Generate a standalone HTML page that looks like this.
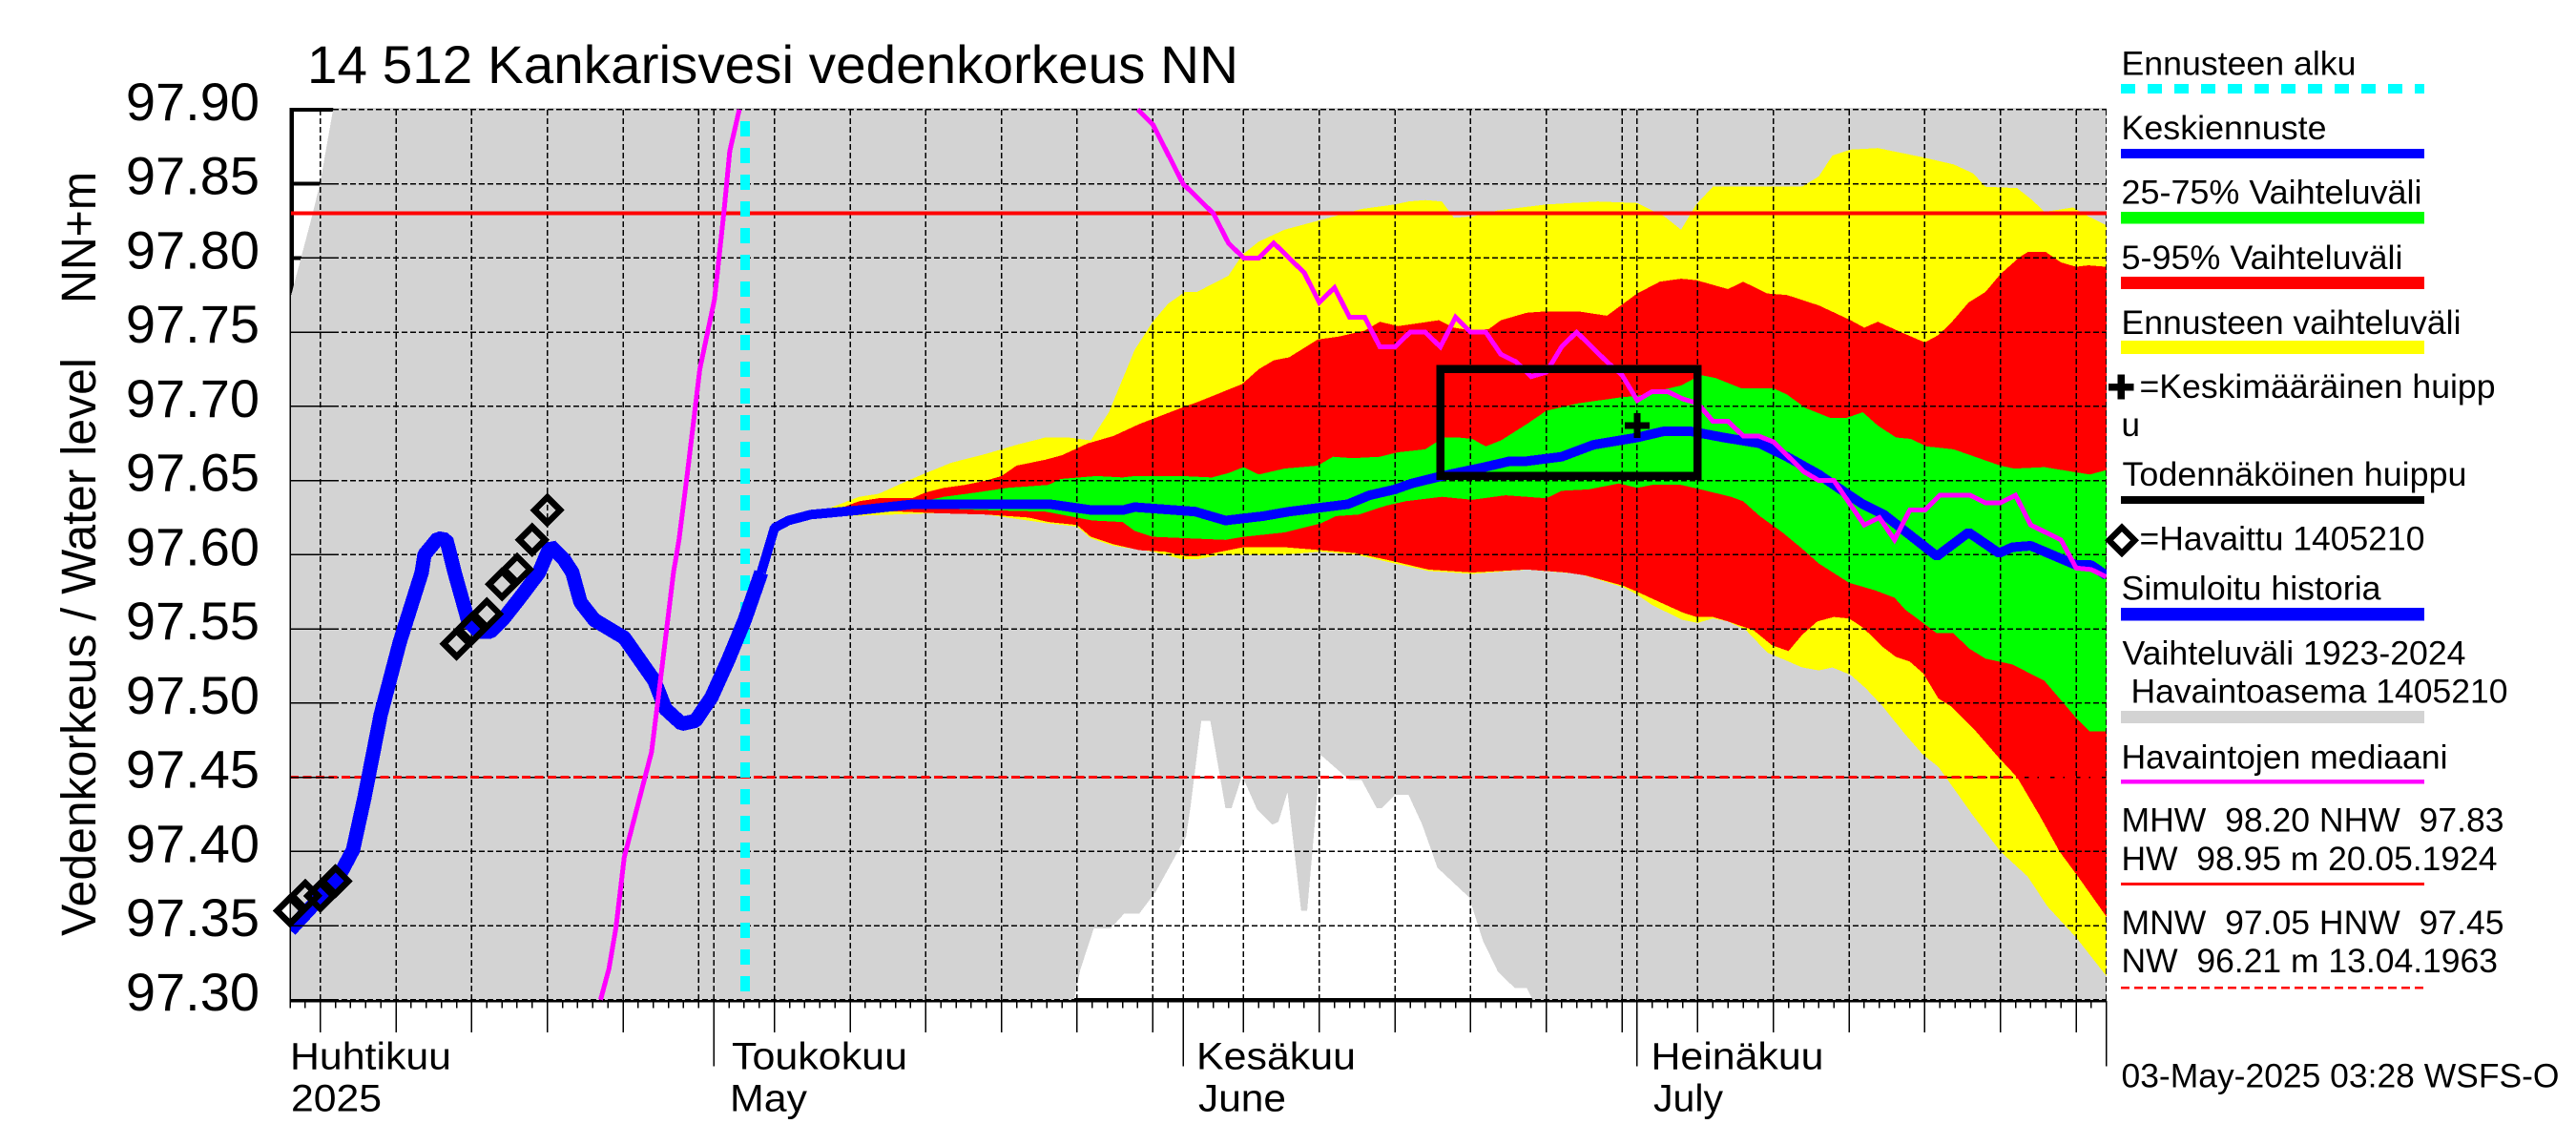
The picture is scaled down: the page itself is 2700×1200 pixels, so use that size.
<!DOCTYPE html>
<html lang="fi">
<head>
<meta charset="utf-8">
<title>14 512 Kankarisvesi vedenkorkeus NN</title>
<style>
html,body{margin:0;padding:0;background:#fff;width:2700px;height:1200px;overflow:hidden}
svg{display:block;shape-rendering:crispEdges}
text{font-family:"Liberation Sans",sans-serif;fill:#000;white-space:pre}
.lg{font-size:35px;transform:translateX(1.5px)}
.xl{font-size:40px}
</style>
</head>
<body>
<svg id="chart" xmlns="http://www.w3.org/2000/svg" width="2700" height="1200" viewBox="0 0 2700 1200">
<rect x="0" y="0" width="2700" height="1200" fill="#fff"/>
<defs><clipPath id="plotClip"><rect x="304" y="113" width="1904" height="937"/></clipPath></defs>
<text x="322" y="87" font-size="56" textLength="976" lengthAdjust="spacingAndGlyphs">14 512 Kankarisvesi vedenkorkeus NN</text>
<text transform="rotate(-90 100 981)" x="100" y="981" font-size="51" textLength="606" lengthAdjust="spacingAndGlyphs">Vedenkorkeus / Water level</text>
<text transform="rotate(-90 100 318)" x="100" y="318" font-size="51" textLength="138" lengthAdjust="spacingAndGlyphs">NN+m</text>
<g id="axesUnder"></g>
<g clip-path="url(#plotClip)">
  <g id="bands"></g>
  <g id="grid"></g>
  <g id="series"></g>
</g>
<g id="marks"></g>
<g id="axesOver"></g>

<text class="xl" x="304" y="1120.5" textLength="169" lengthAdjust="spacingAndGlyphs">Huhtikuu</text>
<text class="xl" x="305" y="1164.5" textLength="95" lengthAdjust="spacingAndGlyphs">2025</text>
<text class="xl" x="767" y="1120.5" textLength="184" lengthAdjust="spacingAndGlyphs">Toukokuu</text>
<text class="xl" x="765" y="1164.5" textLength="81" lengthAdjust="spacingAndGlyphs">May</text>
<text class="xl" x="1254" y="1120.5" textLength="167" lengthAdjust="spacingAndGlyphs">Kesäkuu</text>
<text class="xl" x="1256" y="1164.5" textLength="92" lengthAdjust="spacingAndGlyphs">June</text>
<text class="xl" x="1730.5" y="1120.5" textLength="181" lengthAdjust="spacingAndGlyphs">Heinäkuu</text>
<text class="xl" x="1733" y="1164.5" textLength="73" lengthAdjust="spacingAndGlyphs">July</text>

<g>
<text class="lg" x="2222" y="78.5" textLength="246" lengthAdjust="spacingAndGlyphs">Ennusteen alku</text>
<line x1="2223" x2="2541" y1="93" y2="93" stroke="#00ffff" stroke-width="10" stroke-dasharray="15 13"/>
<text class="lg" x="2222" y="146" textLength="215" lengthAdjust="spacingAndGlyphs">Keskiennuste</text>
<line x1="2223" x2="2541" y1="161" y2="161" stroke="#0000ff" stroke-width="10"/>
<text class="lg" x="2222" y="213.5" textLength="315" lengthAdjust="spacingAndGlyphs">25-75% Vaihteluväli</text>
<line x1="2223" x2="2541" y1="228.3" y2="228.3" stroke="#00ff00" stroke-width="12.6"/>
<text class="lg" x="2222" y="282" textLength="295" lengthAdjust="spacingAndGlyphs">5-95% Vaihteluväli</text>
<line x1="2223" x2="2541" y1="296.6" y2="296.6" stroke="#ff0000" stroke-width="13"/>
<text class="lg" x="2222" y="350" textLength="356" lengthAdjust="spacingAndGlyphs">Ennusteen vaihteluväli</text>
<line x1="2223" x2="2541" y1="364" y2="364" stroke="#ffff00" stroke-width="14"/>
<path d="M2210 405.7H2236.6M2223.3 392.7V418.7" stroke="#000" stroke-width="7.5" fill="none"/>
<text class="lg" x="2241" y="417" textLength="373" lengthAdjust="spacingAndGlyphs">=Keskimääräinen huipp</text>
<text class="lg" x="2222" y="457">u</text>
<text class="lg" x="2223" y="509" textLength="361" lengthAdjust="spacingAndGlyphs">Todennäköinen huippu</text>
<line x1="2223" x2="2541" y1="524" y2="524" stroke="#000" stroke-width="8"/>
<path d="M2224 552.9L2237.5 566.4L2224 579.9L2210.5 566.4Z" stroke="#000" stroke-width="6.5" fill="none"/>
<text class="lg" x="2241" y="576.7" textLength="299" lengthAdjust="spacingAndGlyphs">=Havaittu 1405210</text>
<text class="lg" x="2222" y="628.7" textLength="272" lengthAdjust="spacingAndGlyphs">Simuloitu historia</text>
<line x1="2223" x2="2541" y1="643.8" y2="643.8" stroke="#0000ff" stroke-width="13.5"/>
<text class="lg" x="2223" y="696.4" textLength="360" lengthAdjust="spacingAndGlyphs">Vaihteluväli 1923-2024</text>
<text class="lg" x="2232" y="736.6" textLength="395" lengthAdjust="spacingAndGlyphs">Havaintoasema 1405210</text>
<line x1="2223" x2="2541" y1="751.5" y2="751.5" stroke="#d3d3d3" stroke-width="13"/>
<text class="lg" x="2222" y="805.5" textLength="342" lengthAdjust="spacingAndGlyphs">Havaintojen mediaani</text>
<line x1="2223" x2="2541" y1="819.3" y2="819.3" stroke="#ff00ff" stroke-width="4.6"/>
<text class="lg" x="2222" y="871.7" textLength="401" lengthAdjust="spacingAndGlyphs">MHW  98.20 NHW  97.83</text>
<text class="lg" x="2222" y="912" textLength="394" lengthAdjust="spacingAndGlyphs">HW  98.95 m 20.05.1924</text>
<line x1="2223" x2="2541" y1="926.5" y2="926.5" stroke="#ff0000" stroke-width="3"/>
<text class="lg" x="2222" y="978.9" textLength="401" lengthAdjust="spacingAndGlyphs">MNW  97.05 HNW  97.45</text>
<text class="lg" x="2222" y="1019" textLength="394.5" lengthAdjust="spacingAndGlyphs">NW  96.21 m 13.04.1963</text>
<line x1="2223" x2="2541" y1="1035" y2="1035" stroke="#ff0000" stroke-width="2.5" stroke-dasharray="9 5"/>
<text class="lg" x="2222" y="1139.6" textLength="459" lengthAdjust="spacingAndGlyphs">03-May-2025 03:28 WSFS-O</text>
</g>
</svg>
<script>
// ---- axis labels and tick positions (days since 3 April 2025) ----
const yTickLabels = ["97.90","97.85","97.80","97.75","97.70","97.65","97.60","97.55","97.50","97.45","97.40","97.35","97.30"];
const gridDays = [2,7,12,17,22,27,32,37,42,47,52,57,63,68,73,78,83,88,93,98,103,108,113,118];
const noLongTickDays = [27];
const monthDays = [28,59,89,120];
const firstDay = 0;
const lastDay = 120;

// ---- reference levels and forecast start ----
const nhwLevel = 97.83;
const hnwLevel = 97.45;
const forecastStartDay = 30;

// ---- historic range 1923-2024 (grey) ----
const greyUpperDays = [0,1.45,2,2.84,4,120];
const greyUpperVals = [97.772,97.828,97.851,97.90,98.0,98.1];
const greyLowerDays = [0,51.8,52.2,53.1,54.2,55.1,56.1,57.2,59.2,59.5,60.2,60.8,61.8,62.2,62.9,63.9,64.9,65.3,65.9,66.8,67.2,68.1,70,70.8,71.8,72.1,73,73.9,74.8,75.8,77.9,78.8,79.8,80.9,81.7,82.1,120];
const greyLowerVals = [97.30,97.30,97.32,97.348,97.348,97.358,97.358,97.373,97.41,97.431,97.488,97.488,97.429,97.429,97.451,97.428,97.418,97.42,97.44,97.36,97.36,97.465,97.448,97.448,97.429,97.429,97.438,97.438,97.418,97.389,97.369,97.34,97.319,97.308,97.308,97.30,97.30];

// ---- forecast range (yellow) ----
const yellowUpperDays = [34,37.6,38.9,40.4,42,43.7,46,48,49.9,51.4,52.9,54.1,55.8,57,58,59.1,59.9,62,62.9,64,65.7,67.9,70.8,73,73.9,75,76.1,76.9,78.1,79.8,83,86.4,89,90.8,91.9,92.9,94,99.9,101,101.9,103.1,104.9,107.8,109.9,111.2,112,114.1,115.1,115.9,117.8,118.8,120];
const yellowUpperVals = [97.625,97.639,97.641,97.648,97.655,97.662,97.668,97.674,97.679,97.679,97.677,97.696,97.738,97.757,97.769,97.777,97.777,97.788,97.802,97.811,97.819,97.825,97.833,97.836,97.838,97.839,97.838,97.827,97.828,97.832,97.836,97.838,97.837,97.828,97.819,97.836,97.848,97.848,97.855,97.869,97.873,97.874,97.868,97.863,97.857,97.848,97.847,97.839,97.831,97.834,97.828,97.822];
const yellowLowerDays = [34,42.6,46,50.1,52,52.9,54.4,57,57.8,58.9,60,61.5,65.7,68.1,70.4,75.2,78.1,81.7,85.2,88.1,89,90,92,93,94,95,96.2,97.6,99,99.9,101,101.9,103.1,104.1,105.2,106.7,107.9,108.9,109.6,111.2,113,114.8,116.1,118,120];
const yellowLowerVals = [97.625,97.628,97.627,97.621,97.619,97.611,97.606,97.602,97.60,97.597,97.597,97.60,97.60,97.602,97.60,97.589,97.587,97.59,97.587,97.578,97.573,97.566,97.556,97.554,97.557,97.555,97.549,97.534,97.528,97.524,97.522,97.524,97.519,97.51,97.498,97.479,97.465,97.457,97.447,97.424,97.40,97.383,97.363,97.342,97.316];

// ---- 5-95 % range (red) ----
const redUpperDays = [36,37.6,38.9,41.1,42,43.2,44.6,46,47,48,49.9,51,52.7,54.4,56.1,58.9,60,62.9,64,65,66,67.9,69.3,71,72,73.2,75.9,76.9,78.1,79.2,80,81.7,83,85.1,87,89,90.5,91.9,92.9,95,96,97.6,98.9,101,103.1,104,104.9,106.2,108,108.9,109.8,110.9,112,113,114.2,114.8,116,117,118,118.8,120];
const redUpperVals = [97.63,97.636,97.638,97.638,97.642,97.645,97.647,97.65,97.653,97.66,97.664,97.667,97.675,97.68,97.688,97.699,97.703,97.715,97.725,97.731,97.733,97.745,97.747,97.751,97.757,97.754,97.758,97.753,97.751,97.752,97.758,97.763,97.764,97.764,97.761,97.776,97.784,97.786,97.785,97.779,97.784,97.776,97.775,97.768,97.758,97.753,97.757,97.751,97.743,97.748,97.757,97.77,97.777,97.789,97.80,97.804,97.804,97.797,97.794,97.795,97.794];
const redLowerDays = [36,40.4,42.6,46,48.8,50.1,52,52.9,54.4,56.1,57.8,59.2,60,61.5,63,65.7,68.1,70.4,72.7,75.2,78.1,81.7,84.3,85.6,88.1,89,90.5,92,92.9,94,95,96.7,97.9,99,99.9,100.9,102,103,103.9,105.2,106.1,107,107.9,108.9,109.7,111.2,112.9,114.1,115.6,116.9,118.2,120];
const redLowerVals = [97.63,97.629,97.628,97.627,97.625,97.622,97.62,97.612,97.607,97.603,97.602,97.599,97.599,97.602,97.605,97.605,97.603,97.601,97.596,97.59,97.588,97.59,97.588,97.586,97.579,97.575,97.568,97.561,97.558,97.558,97.555,97.549,97.539,97.535,97.546,97.555,97.558,97.557,97.551,97.538,97.531,97.528,97.52,97.503,97.498,97.483,97.463,97.45,97.424,97.40,97.382,97.356];

// ---- 25-75 % range (green) ----
const greenUpperDays = [40,43.2,45.4,47.4,50.1,50.9,53.3,55,55.8,57.2,58.9,60.9,62,63,64,65.7,67.9,68.9,70.2,72,73.2,75,76.2,77.2,78.1,79,80,81.7,83,85.1,87.9,89,91.9,93.2,94.2,95.9,98,98.9,100.1,101.8,102.8,103.9,104.9,106.1,107.1,108.1,109.9,113,113.9,115.9,118.9,120];
const greenUpperVals = [97.632,97.639,97.642,97.645,97.647,97.651,97.653,97.652,97.653,97.653,97.653,97.652,97.655,97.659,97.654,97.658,97.66,97.666,97.665,97.666,97.669,97.671,97.679,97.679,97.678,97.673,97.677,97.688,97.697,97.702,97.706,97.707,97.714,97.721,97.719,97.712,97.712,97.708,97.699,97.692,97.692,97.696,97.687,97.679,97.678,97.673,97.671,97.66,97.658,97.659,97.654,97.657];
const greenLowerDays = [40,46,49.9,53,55,55.8,57,61.8,63,65.7,68.1,69.1,70.6,72.4,73.7,76.1,78.1,80.3,83,84,85.8,87.8,89,90,91.9,93.2,95.2,96,97.1,98.6,99.9,101,103,104.7,106,106.7,108.8,109.9,110.9,112,113.8,115.9,118,118.9,120];
const greenLowerVals = [97.632,97.63,97.629,97.623,97.622,97.616,97.612,97.61,97.612,97.615,97.621,97.626,97.627,97.633,97.636,97.639,97.637,97.64,97.638,97.643,97.644,97.648,97.645,97.647,97.647,97.644,97.639,97.636,97.626,97.615,97.604,97.594,97.581,97.576,97.571,97.563,97.547,97.547,97.537,97.53,97.526,97.515,97.49,97.481,97.481];

// ---- simulated history (thick blue) ----
const historyDays = [0,1.45,3.28,4.16,4.91,5.99,7.25,8.7,8.88,9.77,10.33,10.87,11.78,12.48,13.23,14.11,15.19,16.45,17.2,18.08,18.65,19.19,20.1,22.08,24.07,24.8,25.88,26.78,27.85,28.95,30.04,31.13];
const historyVals = [97.347,97.363,97.384,97.401,97.436,97.492,97.541,97.588,97.60,97.611,97.61,97.588,97.555,97.548,97.548,97.557,97.571,97.588,97.606,97.597,97.588,97.568,97.556,97.544,97.515,97.496,97.486,97.488,97.504,97.529,97.556,97.588];

// ---- mean forecast (blue) ----
const forecastDays = [31.13,32.01,32.93,34.4,37.56,41.2,50.2,53,55,55.8,59.8,61.8,64.3,66,69.9,71.3,73,74.1,76.1,78.9,80.6,81.7,84,86.1,89,90.7,92.6,94.7,97.1,98.9,101,102,103.9,105.3,108.8,110.9,112.9,113.8,115,118,119,120];
const forecastVals = [97.588,97.618,97.623,97.627,97.63,97.634,97.634,97.63,97.63,97.632,97.629,97.623,97.626,97.629,97.634,97.64,97.644,97.648,97.653,97.659,97.663,97.663,97.666,97.674,97.679,97.683,97.683,97.679,97.675,97.666,97.654,97.647,97.634,97.627,97.599,97.615,97.601,97.605,97.606,97.593,97.593,97.586];

// ---- observation median (magenta), two visible pieces ----
const medianRiseDays = [20.52,21.07,21.54,22.08,23.88,24.43,25.33,25.7,26.24,27.07,28.04,28.67,29.05,29.68];
const medianRiseVals = [97.30,97.321,97.349,97.396,97.467,97.512,97.588,97.61,97.654,97.725,97.772,97.831,97.872,97.90];
const medianFallDays = [56,57,59,61,62,63,64,65,67,68,69,70,71,72,73,74,75,76,77,78,79,80,81,82,83,84,85,87,88,89,90,91,92,93,94,95,96,97,98,100,101,102,104,105,106,107,108,109,111,112,113,114,115,117,118,119,120];
const medianFallVals = [97.90,97.89,97.85,97.83,97.81,97.80,97.80,97.81,97.79,97.77,97.78,97.76,97.76,97.74,97.74,97.75,97.75,97.74,97.76,97.75,97.75,97.735,97.73,97.72,97.723,97.74,97.75,97.73,97.721,97.704,97.71,97.71,97.705,97.702,97.69,97.69,97.68,97.68,97.676,97.656,97.65,97.65,97.62,97.625,97.61,97.63,97.63,97.64,97.64,97.635,97.635,97.64,97.62,97.61,97.591,97.59,97.585];

// ---- observations (diamonds) ----
const observedDays = [0,1,2,3,11,12,13,14,15,16,17];
const observedVals = [97.36,97.37,97.37,97.38,97.54,97.55,97.56,97.58,97.59,97.61,97.63];

// ---- probable peak box and mean peak ----
const peakBoxDays = [76,93];
const peakBoxVals = [97.725,97.653];
const meanPeakDay = [89];
const meanPeakVal = [97.687];

// ---- axis functions ----
function xScale(day){ return 304 + 15.865 * day; }
function yScale(val){ return 114.8 + (97.9 - val) * 1555; }

const SVG_NS = 'http://www.w3.org/2000/svg';
function make(tag, parentId){
  const el = document.createElementNS(SVG_NS, tag);
  document.getElementById(parentId).appendChild(el);
  return el;
}
function pts(days, vals){
  return days.map(function(d,i){ return xScale(d).toFixed(1)+','+yScale(vals[i]).toFixed(1); });
}
function bandPoints(upD, upV, loD, loV){
  return pts(upD, upV).concat(pts(loD, loV).reverse()).join(' ');
}
function parseTick(s){ return parseFloat(s); }

// base (thick) axes under the grey area
const baseLeft = make('line','axesUnder');


baseLeft.setAttribute('x1', 306); baseLeft.setAttribute('x2', 306);
baseLeft.setAttribute('y1', 113); baseLeft.setAttribute('y2', 1050);
baseLeft.setAttribute('stroke', '#000'); baseLeft.setAttribute('stroke-width', 4);
const baseBottom = make('line','axesUnder');


baseBottom.setAttribute('x1', xScale(firstDay)); baseBottom.setAttribute('x2', xScale(lastDay));
baseBottom.setAttribute('y1', 1048); baseBottom.setAttribute('y2', 1048);
baseBottom.setAttribute('stroke', '#000'); baseBottom.setAttribute('stroke-width', 4.5);
yTickLabels.forEach(function(label){
  const y = yScale(parseTick(label));
  const t = make('line','axesUnder');
  
  
  t.setAttribute('x1', 304); t.setAttribute('x2', 350);
  t.setAttribute('y1', y); t.setAttribute('y2', y);
  t.setAttribute('stroke', '#000'); t.setAttribute('stroke-width', 4);
});

// bands
const greyBand = make('polygon','bands');


greyBand.setAttribute('fill', '#d3d3d3');
greyBand.setAttribute('points', bandPoints(greyUpperDays, greyUpperVals, greyLowerDays, greyLowerVals));
const yellowBand = make('polygon','bands');


yellowBand.setAttribute('fill', '#ffff00');
yellowBand.setAttribute('points', bandPoints(yellowUpperDays, yellowUpperVals, yellowLowerDays, yellowLowerVals));
const redBand = make('polygon','bands');


redBand.setAttribute('fill', '#ff0000');
redBand.setAttribute('points', bandPoints(redUpperDays, redUpperVals, redLowerDays, redLowerVals));
const greenBand = make('polygon','bands');


greenBand.setAttribute('fill', '#00ff00');
greenBand.setAttribute('points', bandPoints(greenUpperDays, greenUpperVals, greenLowerDays, greenLowerVals));

// grid
yTickLabels.forEach(function(label){
  const y = yScale(parseTick(label));
  const g = make('line','grid');
  
  
  g.setAttribute('x1', xScale(firstDay)); g.setAttribute('x2', xScale(lastDay));
  g.setAttribute('y1', y); g.setAttribute('y2', y);
  g.setAttribute('stroke', '#000'); g.setAttribute('stroke-width', 1.5);
  g.setAttribute('stroke-dasharray', '6 3');
});
gridDays.concat(monthDays).forEach(function(day){
  const x = xScale(day);
  const g = make('line','grid');
  
  
  g.setAttribute('x1', x); g.setAttribute('x2', x);
  g.setAttribute('y1', yScale(97.9)); g.setAttribute('y2', yScale(97.3));
  g.setAttribute('stroke', '#000'); g.setAttribute('stroke-width', 1.5);
  g.setAttribute('stroke-dasharray', '6 3');
});

// reference lines
const nhwLine = make('line','series');


nhwLine.setAttribute('x1', xScale(firstDay)); nhwLine.setAttribute('x2', xScale(lastDay));
nhwLine.setAttribute('y1', yScale(nhwLevel)); nhwLine.setAttribute('y2', yScale(nhwLevel));
nhwLine.setAttribute('stroke', '#ff0000'); nhwLine.setAttribute('stroke-width', 4);
const hnwLine = make('line','series');


hnwLine.setAttribute('x1', xScale(firstDay)); hnwLine.setAttribute('x2', xScale(lastDay));
hnwLine.setAttribute('y1', yScale(hnwLevel)); hnwLine.setAttribute('y2', yScale(hnwLevel));
hnwLine.setAttribute('stroke', '#ff0000'); hnwLine.setAttribute('stroke-width', 3);
hnwLine.setAttribute('stroke-dasharray', '9 4.5');

// forecast start
const startLine = make('line','series');


startLine.setAttribute('x1', xScale(forecastStartDay)+0.8); startLine.setAttribute('x2', xScale(forecastStartDay)+0.8);
startLine.setAttribute('y1', 127); startLine.setAttribute('y2', yScale(97.3));
startLine.setAttribute('stroke', '#00ffff'); startLine.setAttribute('stroke-width', 10);
startLine.setAttribute('stroke-dasharray', '16 12');

// lines
const historyLine = make('polyline','series');


historyLine.setAttribute('points', pts(historyDays, historyVals).join(' '));
historyLine.setAttribute('fill', 'none'); historyLine.setAttribute('stroke', '#0000ff');
historyLine.setAttribute('stroke-width', 15); historyLine.setAttribute('stroke-linejoin', 'bevel');
const forecastLine = make('polyline','series');


forecastLine.setAttribute('points', pts(forecastDays, forecastVals).join(' '));
forecastLine.setAttribute('fill', 'none'); forecastLine.setAttribute('stroke', '#0000ff');
forecastLine.setAttribute('stroke-width', 10); forecastLine.setAttribute('stroke-linejoin', 'bevel');
const medianRise = make('polyline','series');


medianRise.setAttribute('points', pts(medianRiseDays, medianRiseVals).join(' '));
medianRise.setAttribute('fill', 'none'); medianRise.setAttribute('stroke', '#ff00ff');
medianRise.setAttribute('stroke-width', 5);
const medianFall = make('polyline','series');


medianFall.setAttribute('points', pts(medianFallDays, medianFallVals).join(' '));
medianFall.setAttribute('fill', 'none'); medianFall.setAttribute('stroke', '#ff00ff');
medianFall.setAttribute('stroke-width', 5);

// observations
observedDays.forEach(function(day, i){
  const cx = xScale(day), cy = yScale(observedVals[i]), r = 13.5;
  const d = make('polygon','marks');
  
  
  d.setAttribute('points', cx+','+(cy-r)+' '+(cx+r)+','+cy+' '+cx+','+(cy+r)+' '+(cx-r)+','+cy);
  d.setAttribute('fill', 'none'); d.setAttribute('stroke', '#000'); d.setAttribute('stroke-width', 6.5);
});

// probable peak box
const peakBox = make('rect','marks');


peakBox.setAttribute('x', xScale(peakBoxDays[0]));
peakBox.setAttribute('y', yScale(peakBoxVals[0]));
peakBox.setAttribute('width', xScale(peakBoxDays[1]) - xScale(peakBoxDays[0]));
peakBox.setAttribute('height', yScale(peakBoxVals[1]) - yScale(peakBoxVals[0]));
peakBox.setAttribute('fill', 'none'); peakBox.setAttribute('stroke', '#000'); peakBox.setAttribute('stroke-width', 8.5);

// mean peak plus
const plusX = xScale(meanPeakDay[0]), plusY = yScale(meanPeakVal[0]);
const plus = make('path','marks');


plus.setAttribute('d', 'M'+(plusX-13)+' '+plusY+'H'+(plusX+13)+'M'+plusX+' '+(plusY-13)+'V'+(plusY+13));
plus.setAttribute('stroke', '#000'); plus.setAttribute('stroke-width', 6.6); plus.setAttribute('fill', 'none');

// thin axes, ticks, labels
const leftThin = make('line','axesOver');


leftThin.setAttribute('x1', 304); leftThin.setAttribute('x2', 304);
leftThin.setAttribute('y1', 113); leftThin.setAttribute('y2', 1050);
leftThin.setAttribute('stroke', '#000'); leftThin.setAttribute('stroke-width', 1.5);
yTickLabels.forEach(function(label){
  const y = yScale(parseTick(label));
  const t = make('line','axesOver');
  
  
  t.setAttribute('x1', 304); t.setAttribute('x2', 350);
  t.setAttribute('y1', y); t.setAttribute('y2', y);
  t.setAttribute('stroke', '#000'); t.setAttribute('stroke-width', 1.5);
  const txt = make('text','axesOver');
  
  
  txt.setAttribute('x', 272); txt.setAttribute('y', y + 11);
  txt.setAttribute('text-anchor', 'end'); txt.setAttribute('font-size', 56);
  txt.textContent = label;
});
for (let day = firstDay; day <= lastDay; day++) {
  const x = xScale(day);
  const t = make('line','axesOver');
  
  
  t.setAttribute('x1', x); t.setAttribute('x2', x);
  t.setAttribute('y1', 1049); t.setAttribute('y2', 1056.5);
  t.setAttribute('stroke', '#000'); t.setAttribute('stroke-width', 1.5);
}
gridDays.forEach(function(day){
  if (noLongTickDays.indexOf(day) >= 0) return;
  const x = xScale(day);
  const t = make('line','axesOver');
  
  
  t.setAttribute('x1', x); t.setAttribute('x2', x);
  t.setAttribute('y1', 1049); t.setAttribute('y2', 1082);
  t.setAttribute('stroke', '#000'); t.setAttribute('stroke-width', 1.5);
});
monthDays.forEach(function(day){
  const x = xScale(day);
  const t = make('line','axesOver');
  
  
  t.setAttribute('x1', x); t.setAttribute('x2', x);
  t.setAttribute('y1', 1049); t.setAttribute('y2', 1117.5);
  t.setAttribute('stroke', '#000'); t.setAttribute('stroke-width', 1.5);
});
</script>
</body>
</html>
